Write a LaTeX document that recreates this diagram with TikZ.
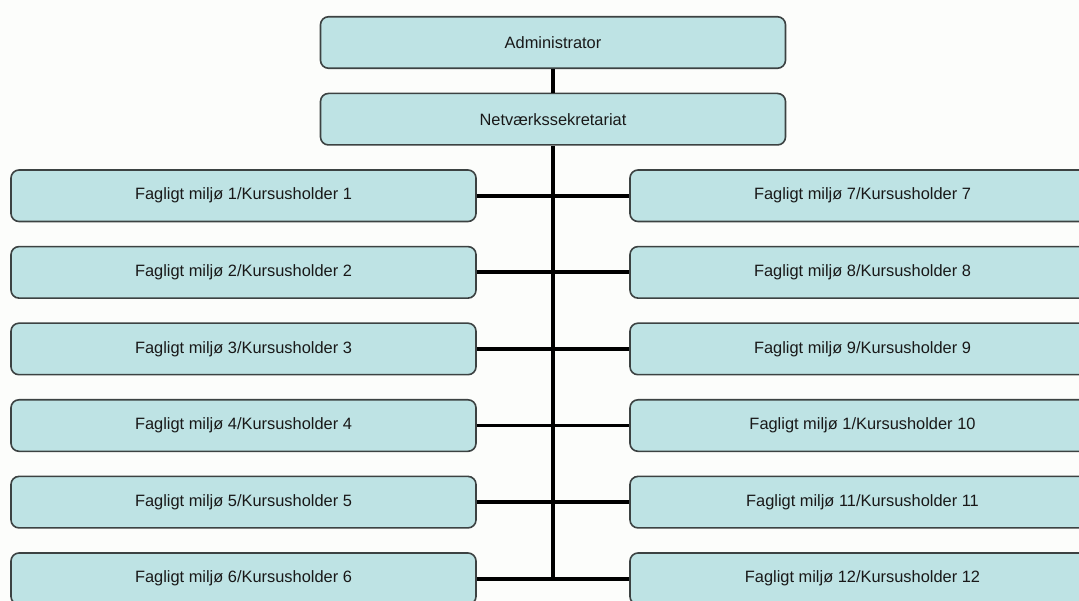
\documentclass[tikz,border=0pt]{standalone}
\usepackage{fontspec}
\setmainfont{Liberation Sans}
\begin{document}
\begin{tikzpicture}[x=1pt,y=-1pt,
  box/.style={draw=boxline, line width=1.6pt, fill=boxfill, rounded corners=8pt,
    minimum width=465pt, minimum height=51.5pt, inner sep=0pt,
    font=\fontsize{16.4}{19}\selectfont, text=black!90},
  conn/.style={line width=3.8pt, black}]
\definecolor{boxfill}{HTML}{BEE3E4}
\definecolor{boxline}{HTML}{3C4242}
\definecolor{bg}{HTML}{FCFDFB}
\useasboundingbox (0,0) rectangle (1079,601);
\clip (0,0) rectangle (1079,601);
\fill[bg] (0,0) rectangle (1079,601);
\node[box] (adm) at (553,42.5) {Administrator};
\node[box] (net) at (553,119.2) {Netværkssekretariat};
\foreach \i/\lt/\rt in {1/{Fagligt miljø 1/Kursusholder 1}/{Fagligt miljø 7/Kursusholder 7},
  2/{Fagligt miljø 2/Kursusholder 2}/{Fagligt miljø 8/Kursusholder 8},
  3/{Fagligt miljø 3/Kursusholder 3}/{Fagligt miljø 9/Kursusholder 9},
  4/{Fagligt miljø 4/Kursusholder 4}/{Fagligt miljø 1/Kursusholder 10},
  5/{Fagligt miljø 5/Kursusholder 5}/{Fagligt miljø 11/Kursusholder 11},
  6/{Fagligt miljø 6/Kursusholder 6}/{Fagligt miljø 12/Kursusholder 12}}{
  \pgfmathsetmacro{\yy}{195.75+(\i-1)*76.6}
  \node[box] (l\i) at (243.5,\yy) {\lt};
  \node[box] (r\i) at (862.5,\yy) {\rt};
}
\coordinate (j6) at (553,578.75);
\draw[conn] (adm.south) -- (net.north);
\draw[conn] (net.south) -- (j6);
\foreach \i in {1,...,6}{
  \draw[conn] (l\i.east) -- (r\i.west);
}
\end{tikzpicture}
\end{document}
